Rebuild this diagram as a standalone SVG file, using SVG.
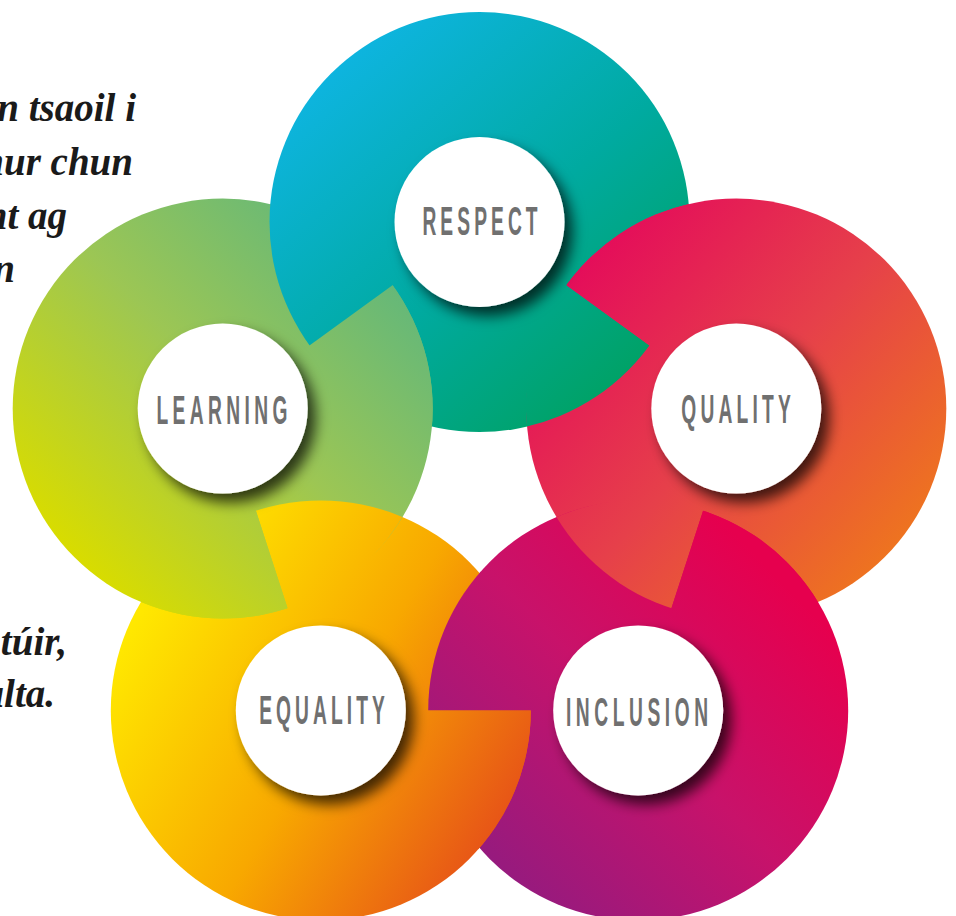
<svg xmlns="http://www.w3.org/2000/svg" width="956" height="916" viewBox="0 0 956 916">
<defs>
<style>
.lbl{font-family:"Liberation Sans Narrow","Liberation Sans",Arial,sans-serif;font-weight:bold;font-size:40px;fill:#707070;text-anchor:middle}
.body{font-family:"Liberation Serif","Times New Roman",serif;font-weight:bold;font-style:italic;font-size:39px;fill:#1a1a1a;text-anchor:end}
.hole{fill:#ffffff}
</style>
<linearGradient id="gR" x1="0.1" y1="0.05" x2="0.9" y2="0.95">
<stop offset="0" stop-color="#10b6ea"/><stop offset="0.55" stop-color="#00aaa0"/><stop offset="1" stop-color="#00a05a"/>
</linearGradient>
<linearGradient id="gQ" x1="0.1" y1="0.1" x2="0.95" y2="0.85">
<stop offset="0" stop-color="#e4075c"/><stop offset="0.5" stop-color="#e6404a"/><stop offset="1" stop-color="#ef7a1a"/>
</linearGradient>
<linearGradient id="gI" x1="0.85" y1="0.2" x2="0.1" y2="0.95">
<stop offset="0" stop-color="#e6004e"/><stop offset="0.45" stop-color="#c8126a"/><stop offset="1" stop-color="#8c1c82"/>
</linearGradient>
<linearGradient id="gE" x1="0.05" y1="0.3" x2="0.95" y2="0.85">
<stop offset="0" stop-color="#ffe800"/><stop offset="0.5" stop-color="#f8a800"/><stop offset="1" stop-color="#e54a1a"/>
</linearGradient>
<linearGradient id="gL" x1="0.9" y1="0.1" x2="0.15" y2="0.85">
<stop offset="0" stop-color="#5db67e"/><stop offset="0.5" stop-color="#9cc654"/><stop offset="1" stop-color="#d8dc00"/>
</linearGradient>
<filter id="sh" x="-40%" y="-40%" width="180%" height="180%">
<feGaussianBlur in="SourceAlpha" stdDeviation="7"/>
<feOffset dx="8" dy="9" result="b"/>
<feFlood flood-color="#000000" flood-opacity="0.72"/>
<feComposite in2="b" operator="in"/>
<feMerge><feMergeNode/><feMergeNode in="SourceGraphic"/></feMerge>
</filter>
<!-- half-disks (slightly enlarged to hide seams): inner = pentagon-centre side -->
<clipPath id="cRin"><path d="M651,97.4 A212,212 0 0 1 308,346.6 Z"/></clipPath>
<clipPath id="cLout"><path d="M394.2,284 A212,212 0 0 0 51.2,533.2 Z"/></clipPath>
<clipPath id="cQin"><path d="M907.8,533.2 A212,212 0 0 1 564.8,284 Z"/></clipPath>
<clipPath id="cRout"><path d="M651,346.6 A212,212 0 0 0 308,97.4 Z"/></clipPath>
<clipPath id="cIin"><path d="M572.7,912 A212,212 0 0 1 703.7,508.8 Z"/></clipPath>
<clipPath id="cQout"><path d="M670.8,610.2 A212,212 0 0 0 801.8,207 Z"/></clipPath>
<clipPath id="cEin"><path d="M108.8,710.4 A212,212 0 0 1 532.8,710.4 Z"/></clipPath>
<clipPath id="cIout"><path d="M426.2,710.4 A212,212 0 0 0 850.2,710.4 Z"/></clipPath>
<clipPath id="cLin"><path d="M157.2,207 A212,212 0 0 1 288.2,610.2 Z"/></clipPath>
<clipPath id="cEout"><path d="M255.3,508.8 A212,212 0 0 0 386.3,912 Z"/></clipPath>
</defs>

<g id="text-fragments">
<text class="body" x="136" y="121">n tsaoil i</text>
<text class="body" x="133" y="175">hur chun</text>
<text class="body" x="67" y="229">nt ag</text>
<text class="body" x="15" y="282">n</text>
<text class="body" x="67" y="655">túir,</text>
<text class="body" x="55" y="707">ulta.</text>
</g>

<g id="rings">
<circle id="ring-respect" cx="479.5" cy="222" r="210" fill="url(#gR)"/>
<circle id="ring-quality" cx="736.3" cy="408.6" r="210" fill="url(#gQ)"/>
<circle id="ring-inclusion" cx="638.2" cy="710.4" r="210" fill="url(#gI)"/>
<circle id="ring-equality" cx="320.8" cy="710.4" r="210" fill="url(#gE)"/>
<circle id="ring-learning" cx="222.7" cy="408.6" r="210" fill="url(#gL)"/>
</g>

<g id="overlaps">
<circle cx="222.7" cy="408.6" r="210" fill="url(#gL)" clip-path="url(#cRin)"/>
<circle cx="479.5" cy="222" r="210" fill="url(#gR)" clip-path="url(#cLout)"/>
<circle cx="479.5" cy="222" r="210" fill="url(#gR)" clip-path="url(#cQin)"/>
<circle cx="736.3" cy="408.6" r="210" fill="url(#gQ)" clip-path="url(#cRout)"/>
<circle cx="736.3" cy="408.6" r="210" fill="url(#gQ)" clip-path="url(#cIin)"/>
<circle cx="638.2" cy="710.4" r="210" fill="url(#gI)" clip-path="url(#cQout)"/>
<circle cx="638.2" cy="710.4" r="210" fill="url(#gI)" clip-path="url(#cEin)"/>
<circle cx="320.8" cy="710.4" r="210" fill="url(#gE)" clip-path="url(#cIout)"/>
<circle cx="320.8" cy="710.4" r="210" fill="url(#gE)" clip-path="url(#cLin)"/>
<circle cx="222.7" cy="408.6" r="210" fill="url(#gL)" clip-path="url(#cEout)"/>
</g>

<g id="node-respect">
<circle class="hole" cx="479.5" cy="222" r="85" filter="url(#sh)"/>
<text class="lbl" transform="translate(480,235) scale(0.48,1)" x="0" y="0" textLength="240" lengthAdjust="spacing">RESPECT</text>
</g>
<g id="node-quality">
<circle class="hole" cx="736.3" cy="408.6" r="85" filter="url(#sh)"/>
<text class="lbl" transform="translate(736,423) scale(0.48,1)" x="0" y="0" textLength="228" lengthAdjust="spacing">QUALITY</text>
</g>
<g id="node-inclusion">
<circle class="hole" cx="638.2" cy="710.4" r="85" filter="url(#sh)"/>
<text class="lbl" transform="translate(637,726) scale(0.48,1)" x="0" y="0" textLength="296" lengthAdjust="spacing">INCLUSION</text>
</g>
<g id="node-equality">
<circle class="hole" cx="320.8" cy="710.4" r="85" filter="url(#sh)"/>
<text class="lbl" transform="translate(322,724) scale(0.48,1)" x="0" y="0" textLength="262" lengthAdjust="spacing">EQUALITY</text>
</g>
<g id="node-learning">
<circle class="hole" cx="222.7" cy="408.6" r="85" filter="url(#sh)"/>
<text class="lbl" transform="translate(222,424) scale(0.48,1)" x="0" y="0" textLength="273" lengthAdjust="spacing">LEARNING</text>
</g>
</svg>
